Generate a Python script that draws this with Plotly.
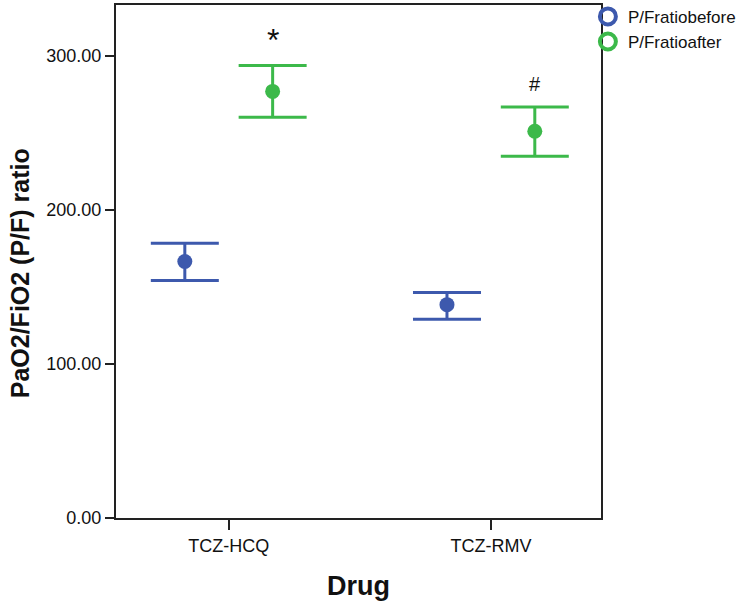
import plotly.graph_objects as go

# ---- data ----
drugs = ["TCZ-HCQ", "TCZ-RMV"]
series_names = ["P/Fratiobefore", "P/Fratioafter"]
before_mean = [166.5, 138.5]
before_upper = [178.3, 146.4]
before_lower = [154.2, 129.0]
after_mean = [276.9, 251.0]
after_upper = [293.8, 266.8]
after_lower = [260.1, 234.8]
markers_text = ["*", "#"]          # significance marks above the 'after' series
y_ticks = [0, 100, 200, 300]
x_title = "Drug"
y_title = "PaO2/FiO2 (P/F) ratio"

BLUE = "#3d59ad"
GREEN = "#3cb94a"
FONT = "Arial, Liberation Sans, sans-serif"

fig = go.Figure()

def add_series(name, mean, upper, lower, color, group):
    plus = [u - m for u, m in zip(upper, mean)]
    minus = [m - l for m, l in zip(mean, lower)]
    fig.add_trace(go.Scatter(
        x=drugs, y=mean, mode="markers", name=name, showlegend=False,
        offsetgroup=group,
        marker=dict(symbol="circle", size=15, color=color),
        error_y=dict(type="data", array=plus, arrayminus=minus, visible=True,
                     color=color, thickness=3, width=34),
    ))

add_series(series_names[0], before_mean, before_upper, before_lower, BLUE, "g0")
add_series(series_names[1], after_mean, after_upper, after_lower, GREEN, "g1")

# legend-only entries (rings, as in the reference)
for k, (name, color) in enumerate(zip(series_names, [BLUE, GREEN])):
    fig.add_trace(go.Scatter(
        x=[None], y=[None], mode="markers", name=name, showlegend=True,
        offsetgroup="g%d" % k,
        marker=dict(symbol="circle-open", size=16, color=color,
                    line=dict(width=4, color=color)),
    ))

# significance annotations above the 'after' bars
scatter_gap = 0.33
offset = (1 - scatter_gap) / 4
for i, (txt, up) in enumerate(zip(markers_text, after_upper)):
    fig.add_annotation(
        x=i + offset, y=up, xref="x", yref="y", text=txt, showarrow=False,
        yanchor="bottom", yshift=5 if txt == "*" else 10,
        font=dict(family=FONT, size=32 if txt == "*" else 20, color="#111"),
    )

# y-axis title as a rotated annotation (sits slightly below the plot centre)
fig.add_annotation(
    x=-0.198, y=0.477, xref="paper", yref="paper", text="<b>%s</b>" % y_title,
    textangle=-90, showarrow=False, xanchor="center", yanchor="middle",
    font=dict(family=FONT, size=25, color="#111"),
)

fig.update_layout(
    width=754, height=604,
    margin=dict(l=116, r=153, t=5, b=86, autoexpand=False),
    paper_bgcolor="white", plot_bgcolor="white",
    scattermode="group", scattergap=scatter_gap,
    font=dict(family=FONT, color="#111"),
    legend=dict(
        x=0.973, y=1.012, xanchor="left", yanchor="top",
        bgcolor="rgba(0,0,0,0)", borderwidth=0,
        font=dict(family=FONT, size=17, color="#111"),
        itemwidth=30, tracegroupgap=0,
    ),
    showlegend=True,
)

fig.update_xaxes(
    type="category", range=[-0.43, 1.42],
    showline=True, mirror=True, linecolor="#222", linewidth=2,
    ticks="outside", ticklen=10, tickwidth=2, tickcolor="#222",
    showgrid=False, zeroline=False,
    tickfont=dict(family=FONT, size=18, color="#111"),
    title=dict(text="<b>%s</b>" % x_title, font=dict(family=FONT, size=27, color="#111"),
               standoff=22),
)
fig.update_yaxes(
    range=[0, 333], tickvals=y_ticks, tickformat=".2f",
    showline=True, mirror=True, linecolor="#222", linewidth=2,
    ticks="outside", ticklen=9, tickwidth=2, tickcolor="#222",
    showgrid=False, zeroline=False,
    tickfont=dict(family=FONT, size=18, color="#111"),
)

fig.write_html("out.html", config={"displayModeBar": False},
               post_script="document.body.style.margin='0';")
